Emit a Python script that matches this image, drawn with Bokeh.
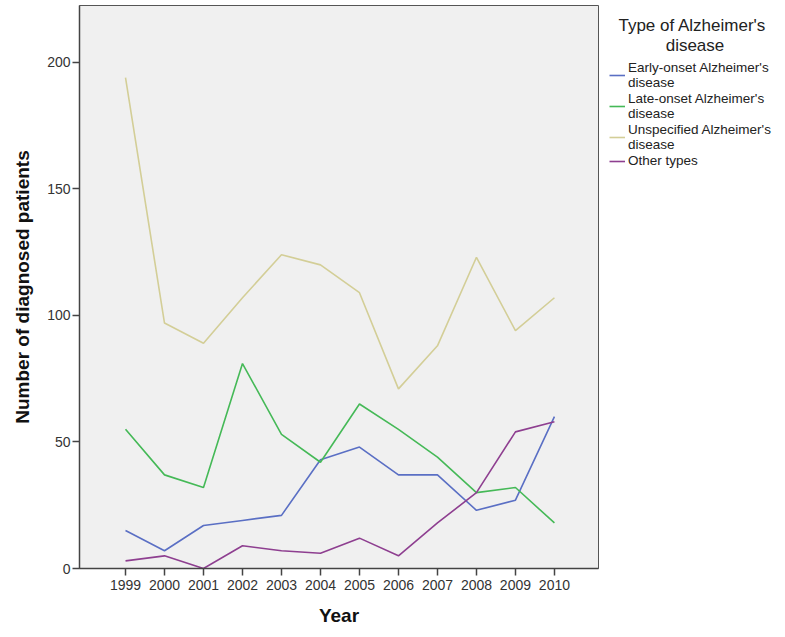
from bokeh.plotting import figure
from bokeh.models import Range1d, Legend, LegendItem, FixedTicker
from bokeh.embed import file_html
from bokeh.resources import INLINE

years = [1999, 2000, 2001, 2002, 2003, 2004, 2005, 2006, 2007, 2008, 2009, 2010]
early_onset = [15, 7, 17, 19, 21, 43, 48, 37, 37, 23, 27, 60]
late_onset = [55, 37, 32, 81, 53, 42, 65, 55, 44, 30, 32, 18]
unspecified = [194, 97, 89, 107, 124, 120, 109, 71, 88, 123, 94, 107]
other_types = [3, 5, 0, 9, 7, 6, 12, 5, 18, 30, 54, 58]
y_ticks = [0, 50, 100, 150, 200]

series = [
    ("Early-onset Alzheimer's\ndisease", early_onset, "#5a6fc4"),
    ("Late-onset Alzheimer's\ndisease", late_onset, "#45b957"),
    ("Unspecified Alzheimer's\ndisease", unspecified, "#d3ce97"),
    ("Other types", other_types, "#8e3f90"),
]
NB = "\u00a0"
legend_title = NB * 2 + "Type of Alzheimer's\n" + NB * 12 + "disease"

FONT = "Liberation Sans"

p = figure(frame_width=519, frame_height=563, output_backend="svg", toolbar_location=None,
           x_range=Range1d(1997.82, 2011.13), y_range=Range1d(0, 222.5),
           min_border_left=79, min_border_right=180, min_border_top=5, min_border_bottom=69)
p.background_fill_color = "#f0f0f0"
p.border_fill_color = "white"
p.outline_line_color = "#555555"
p.outline_line_width = 1
p.grid.visible = False

items = []
for name, vals, col in series:
    r = p.line(years, vals, line_color=col, line_width=1.6)
    items.append(LegendItem(label=name, renderers=[r]))

for ax in (p.xaxis[0], p.yaxis[0]):
    ax.axis_line_color = "#444444"
    ax.axis_line_width = 1.5
    ax.major_tick_line_color = "#444444"
    ax.major_tick_line_width = 1.5
    ax.major_tick_out = 7
    ax.major_tick_in = 0
    ax.minor_tick_line_color = None
    ax.major_label_text_font = FONT
    ax.major_label_text_font_size = "14px"
    ax.major_label_text_color = "#333333"
    ax.axis_label_text_font = FONT
    ax.axis_label_text_font_size = "19px"
    ax.axis_label_text_font_style = "bold"
    ax.axis_label_text_color = "#111111"

p.xaxis.ticker = FixedTicker(ticks=years)
p.yaxis.ticker = FixedTicker(ticks=y_ticks)
p.xaxis.axis_label = "Year"
p.yaxis.axis_label = "Number of diagnosed patients"
p.xaxis.major_label_standoff = 4
p.xaxis.axis_label_standoff = 12
p.yaxis.major_label_standoff = 2
p.yaxis.axis_label_standoff = 11

legend = Legend(items=items, location="top_left", orientation="vertical",
                title=legend_title, title_text_font=FONT, title_text_font_size="17px",
                title_text_font_style="normal", title_text_color="#222222",
                title_standoff=4,
                label_text_font=FONT, label_text_font_size="13.5px",
                label_text_color="#222222",
                glyph_width=16, glyph_height=14, label_standoff=3,
                spacing=1, padding=0, margin=11,
                border_line_color=None, background_fill_alpha=0)
p.add_layout(legend, "right")

open("out.html", "w").write(file_html(p, INLINE))
